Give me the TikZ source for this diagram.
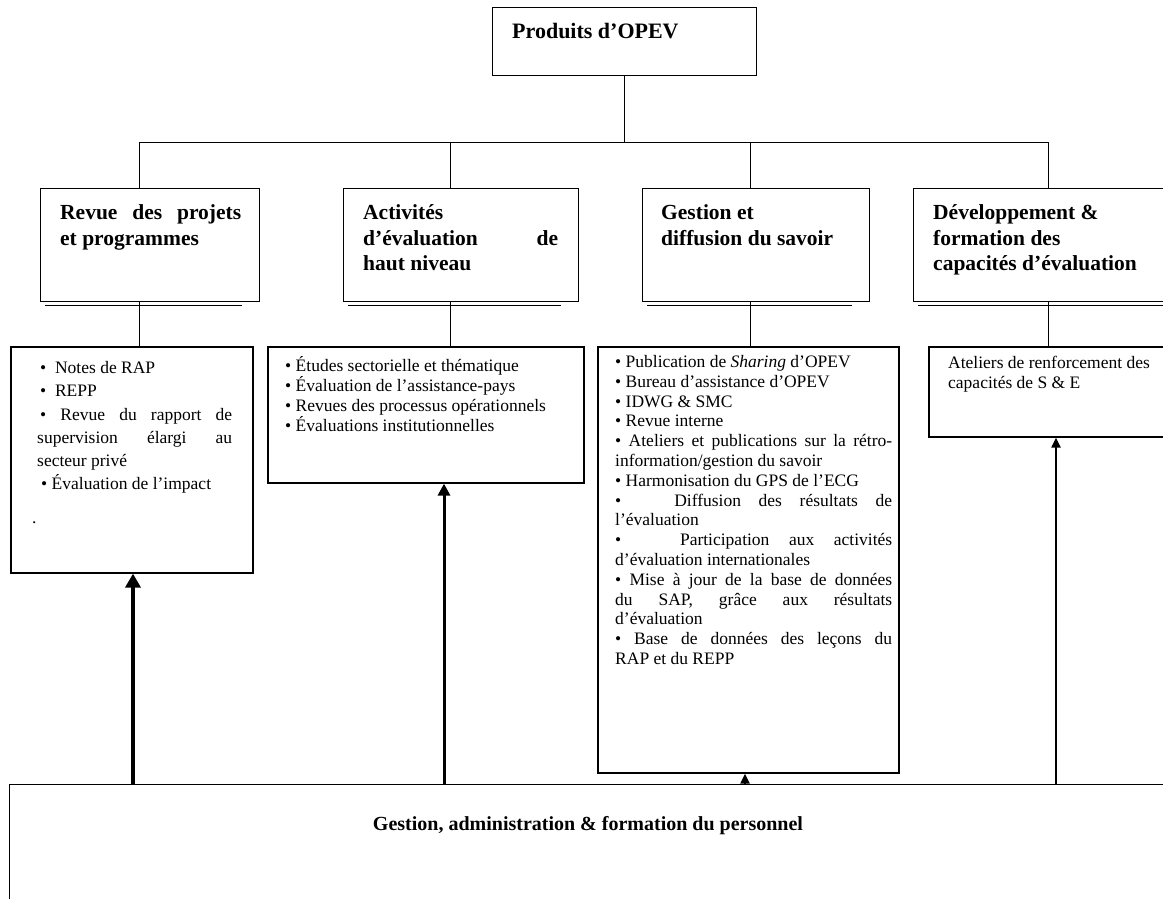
\documentclass[tikz,border=0pt]{standalone}
\usepackage{fontspec}
\setmainfont{Liberation Serif}
\usetikzlibrary{arrows.meta,calc}
\newcommand{\firstline}{\rule{0pt}{0.9em}}
\begin{document}
\begin{tikzpicture}[x=1pt,y=1pt,
  box/.style={draw, line width=1.3pt, inner sep=0pt, anchor=north west},
  lbox/.style={draw, line width=1.6pt, inner sep=0pt, anchor=north west},
  conn/.style={line width=0.9pt},
  shadowline/.style={line width=1.1pt},
  hdr/.style={anchor=north west, inner sep=0pt, align=left, font=\fontsize{21.5}{25.5}\selectfont\bfseries},
  lst/.style={anchor=north west, inner sep=0pt, align=left},
  upA/.style={line width=4.5pt, -{Triangle[width=15pt,length=14pt]}},
  upB/.style={line width=3pt, -{Triangle[width=12pt,length=12pt]}},
  upC/.style={line width=2pt, -{Triangle[width=9pt,length=10pt]}}]
\useasboundingbox (0,0) rectangle (1163,-898);
\clip (0,0) rectangle (1163,-898);

% top box
\node[box, minimum width=264pt, minimum height=68pt] (p) at (492,-7) {};
\node[anchor=north west, inner sep=0pt, font=\fontsize{22}{26}\selectfont\bfseries] (pt) at (512,-18.8) {\firstline Produits d’OPEV};

% header boxes
\node[box, minimum width=219pt, minimum height=113pt] (h1) at (40,-188) {};
\node[box, minimum width=235pt, minimum height=113pt] (h2) at (343,-188) {};
\node[box, minimum width=227pt, minimum height=113pt] (h3) at (642,-188) {};
\node[box, minimum width=280pt, minimum height=113pt] (h4) at (913,-188) {};

\foreach \n in {h1,h2,h3,h4}{
  \draw[shadowline] ([xshift=5pt,yshift=-3pt]\n.south west) -- ([xshift=-18pt,yshift=-3pt]\n.south east);
}

\node[hdr] (t1) at (60,-200) {\firstline\makebox[181pt][s]{Revue des projets}\\et programmes};
\node[hdr] (t2) at (363,-200) {\firstline Activités\\\makebox[195pt][s]{d’évaluation de}\\haut niveau};
\node[hdr] (t3) at (661,-200) {\firstline Gestion et\\diffusion du savoir};
\node[hdr] (t4) at (933,-200) {\firstline Développement \&\\formation des\\capacités d’évaluation};

% lower boxes
\node[lbox, minimum width=242pt, minimum height=226pt] (l1) at (10,-346) {};
\node[lbox, minimum width=316pt, minimum height=136pt] (l2) at (267,-346) {};
\node[lbox, minimum width=301pt, minimum height=426pt] (l3) at (597,-346) {};
\node[lbox, minimum width=260pt, minimum height=90pt] (l4) at (928,-346) {};

\node[lst, font=\fontsize{17.5}{23.3}\selectfont] (x1) at (37,-357.5) {%
\firstline\hspace*{3pt}•\ \ Notes de RAP\\
\hspace*{3pt}•\ \ REPP\\
\makebox[195pt][s]{\hspace*{3pt}• Revue du rapport de}\\
\makebox[195pt][s]{supervision élargi au}\\
secteur privé\\
\hspace*{4pt}• Évaluation de l’impact\\[10pt]
\hspace*{-5pt}.};

\node[lst, font=\fontsize{17.5}{20}\selectfont] (x2) at (285,-355.5) {%
\firstline• Études sectorielle et thématique\\
• Évaluation de l’assistance-pays\\
• Revues des processus opérationnels\\
• Évaluations institutionnelles};

\node[lst, font=\fontsize{17.5}{19.8}\selectfont] (x3) at (615,-351.5) {%
\firstline• Publication de \textit{Sharing} d’OPEV\\
• Bureau d’assistance d’OPEV\\
• IDWG \& SMC\\
• Revue interne\\
\makebox[277pt][s]{• Ateliers et publications sur la rétro-}\\
information/gestion du savoir\\
• Harmonisation du GPS de l’ECG\\
\makebox[277pt][s]{•\ \ \ Diffusion des résultats de}\\
l’évaluation\\
\makebox[277pt][s]{•\ \ \ Participation aux activités}\\
d’évaluation internationales\\
\makebox[277pt][s]{• Mise à jour de la base de données}\\
\makebox[277pt][s]{du SAP, grâce aux résultats}\\
d’évaluation\\
\makebox[277pt][s]{• Base de données des leçons du}\\
RAP et du REPP};

\node[lst, font=\fontsize{17.5}{20}\selectfont] (x4) at (948,-352.5) {%
\firstline Ateliers de renforcement des\\
capacités de S \& E};

% bottom box
\node[box, minimum width=1170pt, minimum height=130pt] (g) at (9,-784) {};
\node[font=\fontsize{20}{24}\selectfont\bfseries, inner sep=0pt] (gt) at (588,-826) {Gestion, administration \& formation du personnel};

% tree connectors
\coordinate (bus) at (624,-142);
\coordinate (c1) at (139,-142);
\coordinate (c2) at (450,-142);
\coordinate (c3) at (750,-142);
\coordinate (c4) at (1048,-142);
\draw[conn] (p.south) -- (p.south |- bus);
\draw[conn] (c1 |- h1.north) -- (c1) -- (c4) -- (c4 |- h4.north);
\draw[conn] (c2) -- (c2 |- h2.north);
\draw[conn] (c3) -- (c3 |- h3.north);
\draw[conn] (c1 |- h1.south) -- (c1 |- l1.north);
\draw[conn] (c2 |- h2.south) -- (c2 |- l2.north);
\draw[conn] (c3 |- h3.south) -- (c3 |- l3.north);
\draw[conn] (c4 |- h4.south) -- (c4 |- l4.north);

% upward arrows
\coordinate (a1) at (133,-784);
\coordinate (a2) at (444,-784);
\coordinate (a3) at (745,-784);
\coordinate (a4) at (1056,-784);
\draw[upA] (a1) -- (a1 |- l1.south);
\draw[upB] (a2) -- (a2 |- l2.south);
\draw[upC] (a3) -- (a3 |- l3.south);
\draw[upC] (a4) -- (a4 |- l4.south);
\end{tikzpicture}
\end{document}
